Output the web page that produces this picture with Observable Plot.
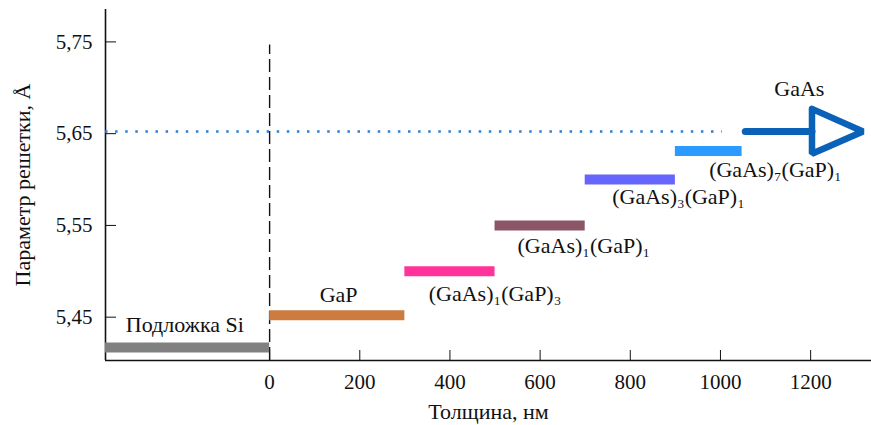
<!DOCTYPE html>
<html>
<head>
<meta charset="utf-8">
<script src="https://cdn.jsdelivr.net/npm/d3@7"></script>
<script src="https://cdn.jsdelivr.net/npm/@observablehq/plot@0.6"></script>
<style>
  html, body { margin: 0; padding: 0; background: #fff; }
  svg { display: block; }
  #chart svg, #chart svg text { font-family: "Liberation Serif", "Times New Roman", serif !important; }
</style>
</head>
<body>
<div id="chart"></div>
<script>
// ---- data ----
const xDomain = [-364, 1335];
const yDomain = [5.4028, 5.7853];
const xTicks = [0, 200, 400, 600, 800, 1000, 1200];
const yTicks = [5.45, 5.55, 5.65, 5.75];

const layerNames = ["Si", "GaP", "(GaAs)1(GaP)3", "(GaAs)1(GaP)1", "(GaAs)3(GaP)1", "(GaAs)7(GaP)1"];
const layerStart = [-364, 0, 300, 500, 700, 900];
const layerEnd = [0, 300, 500, 700, 900, 1048];
const layerValue = [5.417, 5.452, 5.500, 5.550, 5.600, 5.631];
const layerColors = ["#808080", "#cd7b3f", "#ff3399", "#8c5567", "#6666ff", "#2b9bff"];

const labelTexts = ["Подложка Si", "GaP", "(GaAs)₁(GaP)₃", "(GaAs)₁(GaP)₁", "(GaAs)₃(GaP)₁", "(GaAs)₇(GaP)₁", "GaAs"];
const labelX = [-188, 153, 500, 697, 907, 1122, 1175];
const labelY = [5.441, 5.4737, 5.4755, 5.528, 5.581, 5.610, 5.699];

const gaAsValue = 5.6523;
const dottedEnd = 1004;
const arrowShaftX = [1055, 1203];
const arrowHeadX = [1203, 1316, 1203, 1203];
const arrowHeadY = [5.677, 5.6523, 5.628, 5.677];
const substrateTop = 5.7465;

const fmt = d => d3.format(".2f")(d).replace(".", ",");

const layers = layerNames.map((n, i) => ({name: n, x1: layerStart[i], x2: layerEnd[i], y: layerValue[i], c: layerColors[i]}));
const labels = labelTexts.map((t, i) => ({t, x: labelX[i], y: labelY[i]}));
const shaft = arrowShaftX.map(x => ({x, y: gaAsValue}));
const head = arrowHeadX.map((x, i) => ({x, y: arrowHeadY[i]}));

const FONT = "'Liberation Serif', 'Times New Roman', serif";

const chart = Plot.plot({
  width: 871,
  height: 425,
  marginLeft: 105,
  marginRight: 0,
  marginTop: 9,
  marginBottom: 65,
  style: {fontFamily: FONT, fontSize: "21px", color: "#111", background: "#fff"},
  x: {domain: xDomain},
  y: {domain: yDomain},
  marks: [
    Plot.axisX({ticks: xTicks, tickSize: -10, tickPadding: 24, tickFormat: d => String(d), label: null, fontSize: 21}),
    Plot.axisY({ticks: yTicks, tickSize: -11, tickPadding: 24, tickFormat: fmt, label: null, fontSize: 21}),
    Plot.ruleX([xDomain[0]], {stroke: "#111", strokeWidth: 1.6}),
    Plot.ruleY([yDomain[0]], {stroke: "#111", strokeWidth: 1.6}),
    Plot.ruleX([0], {y1: yDomain[0], y2: substrateTop, stroke: "#111", strokeWidth: 1.4, strokeDasharray: "13,5"}),
    Plot.ruleY([gaAsValue], {x1: xDomain[0], x2: dottedEnd, stroke: "#2a7fd8", strokeWidth: 2.5, strokeDasharray: "2.5,7.6"}),
    Plot.ruleY(layers, {x1: "x1", x2: "x2", y: "y", stroke: "c", strokeWidth: 10}),
    Plot.line(shaft, {x: "x", y: "y", stroke: "#0a62b8", strokeWidth: 7, strokeLinecap: "round"}),
    Plot.line(head, {x: "x", y: "y", stroke: "#0a62b8", strokeWidth: 6.5, strokeLinejoin: "miter", fill: "none"}),
    Plot.text(labels, {x: "x", y: "y", text: "t", fontSize: 22, fill: "#111"}),
    Plot.text(["Толщина, нм"], {frameAnchor: "bottom", textAnchor: "middle", dy: 58, fontSize: 22, fill: "#111"}),
    Plot.text(["Параметр решетки, Å"], {frameAnchor: "left", textAnchor: "middle", dx: -83, rotate: -90, fontSize: 22, fill: "#111"})
  ]
});
document.getElementById("chart").appendChild(chart);
</script>
</body>
</html>
